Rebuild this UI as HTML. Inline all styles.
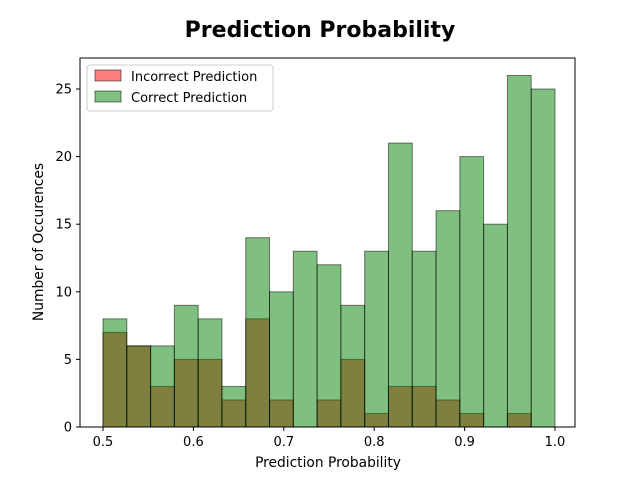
<!DOCTYPE html>
<html><head><meta charset="utf-8"><style>body{margin:0;background:#fff}svg{display:block;font-family:"DejaVu Sans","Liberation Sans",sans-serif}</style></head>
<body>
<svg id="c" width="640" height="480">
<text x="320" y="37" text-anchor="middle" font-size="22" font-weight="bold">Prediction Probability</text>
<g id="bars"></g>
<rect x="80" y="58" width="495" height="369" fill="none" stroke="#000" stroke-width="1"/>
<g id="axes"></g>
<text x="328" y="467" text-anchor="middle" font-size="13.8">Prediction Probability</text>
<text transform="translate(43,242) rotate(-90)" text-anchor="middle" font-size="13.8">Number of Occurences</text>
<g>
<rect x="87" y="65" width="186" height="46" rx="3" fill="#fff" stroke="#ccc"/>
<g><rect x="95" y="70" width="26" height="11" fill="#ff0000" fill-opacity="0.5" stroke="#000" stroke-opacity="0.5"/><text x="131" y="81" font-size="13">Incorrect Prediction</text></g>
<g><rect x="95" y="91" width="26" height="11" fill="#008000" fill-opacity="0.5" stroke="#000" stroke-opacity="0.5"/><text x="131" y="102" font-size="13">Correct Prediction</text></g>
</g>
</svg>
<script>
const incorrect=[7,6,3,5,5,2,8,2,0,2,5,1,3,3,2,1,0,1,0];
const correct=[8,6,6,9,8,3,14,10,13,12,9,13,21,13,16,20,15,26,25];
const xTicks=[0.5,0.6,0.7,0.8,0.9,1.0];
const xTickLabels=["0.5","0.6","0.7","0.8","0.9","1.0"];
const yTicks=[0,5,10,15,20,25];
const binStart=0.5, binEnd=1.0;
const NS="http://www.w3.org/2000/svg";
function xs(v){return 103+(v-0.5)*904;}
function ys(v){return 427-v*13.52;}
const bars=document.getElementById('bars');
function draw(arr,color,name){
  const n=arr.length,w=(binEnd-binStart)/n;
  arr.forEach((v,i)=>{
    if(v<=0)return;
    const r=document.createElementNS(NS,'rect');
    
    
    const x0=xs(binStart+i*w),x1=xs(binStart+(i+1)*w);
    r.setAttribute('x',x0);r.setAttribute('width',x1-x0);
    r.setAttribute('y',ys(v));r.setAttribute('height',ys(0)-ys(v));
    r.setAttribute('fill',color);r.setAttribute('fill-opacity','0.5');
    r.setAttribute('stroke','#000');r.setAttribute('stroke-opacity','0.5');
    bars.appendChild(r);
  });
}
draw(incorrect,'#ff0000','incorrect');
draw(correct,'#008000','correct');
const ax=document.getElementById('axes');
xTicks.forEach((t,i)=>{
  const l=document.createElementNS(NS,'line');
  
  
  l.setAttribute('x1',xs(t));l.setAttribute('x2',xs(t));l.setAttribute('y1',427);l.setAttribute('y2',431);l.setAttribute('stroke','#000');
  ax.appendChild(l);
  const tx=document.createElementNS(NS,'text');
  
  
  tx.setAttribute('x',xs(t));tx.setAttribute('y',446);tx.setAttribute('text-anchor','middle');tx.setAttribute('font-size','13');
  tx.textContent=xTickLabels[i];ax.appendChild(tx);
});
yTicks.forEach(t=>{
  const l=document.createElementNS(NS,'line');
  
  
  l.setAttribute('x1',76);l.setAttribute('x2',80);l.setAttribute('y1',ys(t));l.setAttribute('y2',ys(t));l.setAttribute('stroke','#000');
  ax.appendChild(l);
  const tx=document.createElementNS(NS,'text');
  
  
  tx.setAttribute('x',72);tx.setAttribute('y',ys(t)+4.5);tx.setAttribute('text-anchor','end');tx.setAttribute('font-size','13');
  tx.textContent=t;ax.appendChild(tx);
});
</script>
</body></html>
